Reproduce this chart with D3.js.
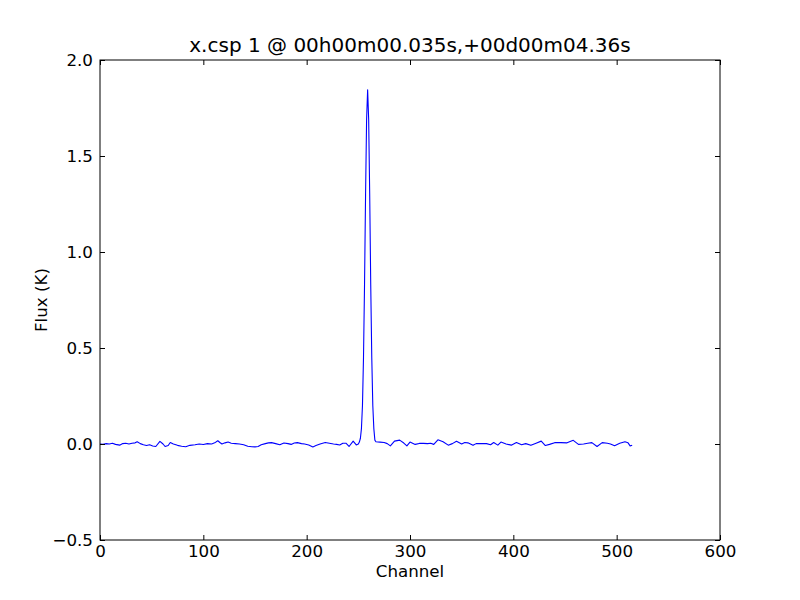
<!DOCTYPE html>
<html>
<head>
<meta charset="utf-8">
<script src="https://cdn.jsdelivr.net/npm/d3@7"></script>
<style>
  html, body { margin: 0; padding: 0; background: #ffffff; }
  svg { display: block; }
  text { font-family: "DejaVu Sans", sans-serif; fill: #000; }
</style>
</head>
<body>
<svg id="chart" width="800" height="600"></svg>
<script>
// ---- data ----
const channels = [
  0, 3, 6, 9, 12, 15, 19, 22, 25, 28, 31, 34, 36, 39, 42, 45, 48, 51, 54, 58,
  61, 63, 66, 68, 71, 75, 79, 83, 87, 92, 96, 100, 104, 108, 111, 114, 116, 118, 121, 124,
  127, 131, 135, 139, 143, 147, 150, 153, 156, 160, 163, 166, 170, 174, 178, 182, 185, 188, 191, 195,
  198, 202, 206, 209, 213, 218, 222, 226, 229, 232, 235, 238, 241, 245, 248, 250, 251, 252, 253, 254,
  255, 256, 257, 258, 259, 260, 261, 262, 263, 264, 265, 266, 267, 271, 275, 278, 281, 285, 290, 294,
  297, 300, 305, 309, 313, 317, 320, 323, 327, 332, 337, 341, 345, 350, 353, 356, 361, 364, 369, 374,
  378, 381, 385, 388, 393, 398, 403, 408, 412, 417, 422, 427, 431, 435, 440, 446, 452, 458, 463, 468,
  472, 476, 481, 486, 491, 494, 498, 503, 508, 511, 513, 515
];
const flux = [
  0.000, -0.002, 0.002, 0.000, 0.004, -0.002, -0.006, 0.002, 0.004, 0.000, 0.004, 0.006, 0.012, 0.002, -0.004, -0.008, -0.004, -0.010, -0.013, 0.014,
  0.000, -0.013, -0.008, 0.008, 0.000, -0.007, -0.012, -0.014, -0.007, -0.004, 0.000, -0.003, 0.002, 0.000, 0.006, 0.017, 0.008, 0.000, 0.006, 0.010,
  0.004, 0.002, 0.000, -0.004, -0.012, -0.014, -0.015, -0.013, -0.004, 0.002, 0.006, 0.007, 0.002, -0.004, 0.005, 0.002, -0.002, 0.005, 0.007, 0.002,
  0.000, -0.005, -0.015, -0.008, 0.000, 0.008, 0.004, 0.000, -0.002, -0.005, 0.004, 0.004, -0.013, 0.015, -0.005, 0.000, 0.010, 0.030, 0.080, 0.200,
  0.450, 0.830, 1.300, 1.690, 1.845, 1.690, 1.300, 0.830, 0.450, 0.200, 0.080, 0.020, 0.012, 0.010, 0.008, 0.002, -0.010, 0.015, 0.020, 0.005,
  -0.010, 0.010, -0.002, 0.003, 0.003, 0.002, 0.004, -0.002, 0.022, 0.012, -0.006, 0.002, 0.014, 0.000, 0.008, 0.006, -0.007, 0.002, 0.002, 0.002,
  -0.004, 0.008, -0.006, 0.010, 0.000, -0.006, 0.008, -0.004, 0.002, -0.007, 0.004, 0.015, -0.008, -0.002, 0.007, 0.007, 0.006, 0.019, -0.002, 0.000,
  0.004, 0.007, -0.013, 0.007, 0.004, 0.000, -0.009, 0.004, 0.012, 0.006, -0.010, -0.006
];
const xTicks = [0, 100, 200, 300, 400, 500, 600];
const yTicks = [-0.5, 0.0, 0.5, 1.0, 1.5, 2.0];
const titleText = "x.csp 1 @ 00h00m00.035s,+00d00m04.36s";
const xLabel = "Channel";
const yLabel = "Flux (K)";

// ---- layout ----
const svg = d3.select("#chart");
const L = 100, R = 720, T = 60, B = 540;
const x = d3.scaleLinear().domain([0, 600]).range([L, R]);
const y = d3.scaleLinear().domain([-0.5, 2.0]).range([B, T]);
const fmtY = v => d3.format(".1f")(v).replace("-", "\u2212");
const tickLen = 5;

// line
const data = channels.map((c, i) => [c, flux[i]]);
svg.append("clipPath").attr("id", "clip")
  .append("rect").attr("x", L).attr("y", T).attr("width", R - L).attr("height", B - T);
svg.append("path")
  .datum(data)
  .attr("clip-path", "url(#clip)")
  .attr("fill", "none")
  .attr("stroke", "#0000ff")
  .attr("stroke-width", 1.1)
  .attr("stroke-linejoin", "round")
  .attr("d", d3.line().x(d => x(d[0])).y(d => y(d[1])));

// axes (ticks inward on all four sides)
const gBottom = svg.append("g").attr("transform", `translate(0,${B})`)
  .call(d3.axisBottom(x).tickValues(xTicks).tickSizeInner(-tickLen).tickSizeOuter(0).tickPadding(5).tickFormat(d3.format("d")));
const gTop = svg.append("g").attr("transform", `translate(0,${T})`)
  .call(d3.axisTop(x).tickValues(xTicks).tickSizeInner(-tickLen).tickSizeOuter(0).tickFormat(""));
const gLeft = svg.append("g").attr("transform", `translate(${L},0)`)
  .call(d3.axisLeft(y).tickValues(yTicks).tickSizeInner(-tickLen).tickSizeOuter(0).tickPadding(7).tickFormat(fmtY));
const gRight = svg.append("g").attr("transform", `translate(${R},0)`)
  .call(d3.axisRight(y).tickValues(yTicks).tickSizeInner(-tickLen).tickSizeOuter(0).tickFormat(""));

[gBottom, gTop, gLeft, gRight].forEach(g => {
  g.select(".domain").remove();
  g.selectAll(".tick line").attr("stroke", "#000").attr("stroke-width", 1);
  g.selectAll("text").attr("font-family", "DejaVu Sans").attr("font-size", "16.7px").attr("fill", "#000");
});
gBottom.selectAll("text").attr("dy", "0.71em");

// frame
svg.append("rect")
  .attr("x", L).attr("y", T).attr("width", R - L).attr("height", B - T)
  .attr("fill", "none").attr("stroke", "#000").attr("stroke-width", 1);

// title & labels
svg.append("text").attr("x", (L + R) / 2).attr("y", 52)
  .attr("text-anchor", "middle").attr("font-size", "20px").text(titleText);
svg.append("text").attr("x", (L + R) / 2).attr("y", 577)
  .attr("text-anchor", "middle").attr("font-size", "16.7px").text(xLabel);
svg.append("text").attr("transform", `translate(47,${(T + B) / 2}) rotate(-90)`)
  .attr("text-anchor", "middle").attr("font-size", "16.7px").text(yLabel);
</script>
</body>
</html>
